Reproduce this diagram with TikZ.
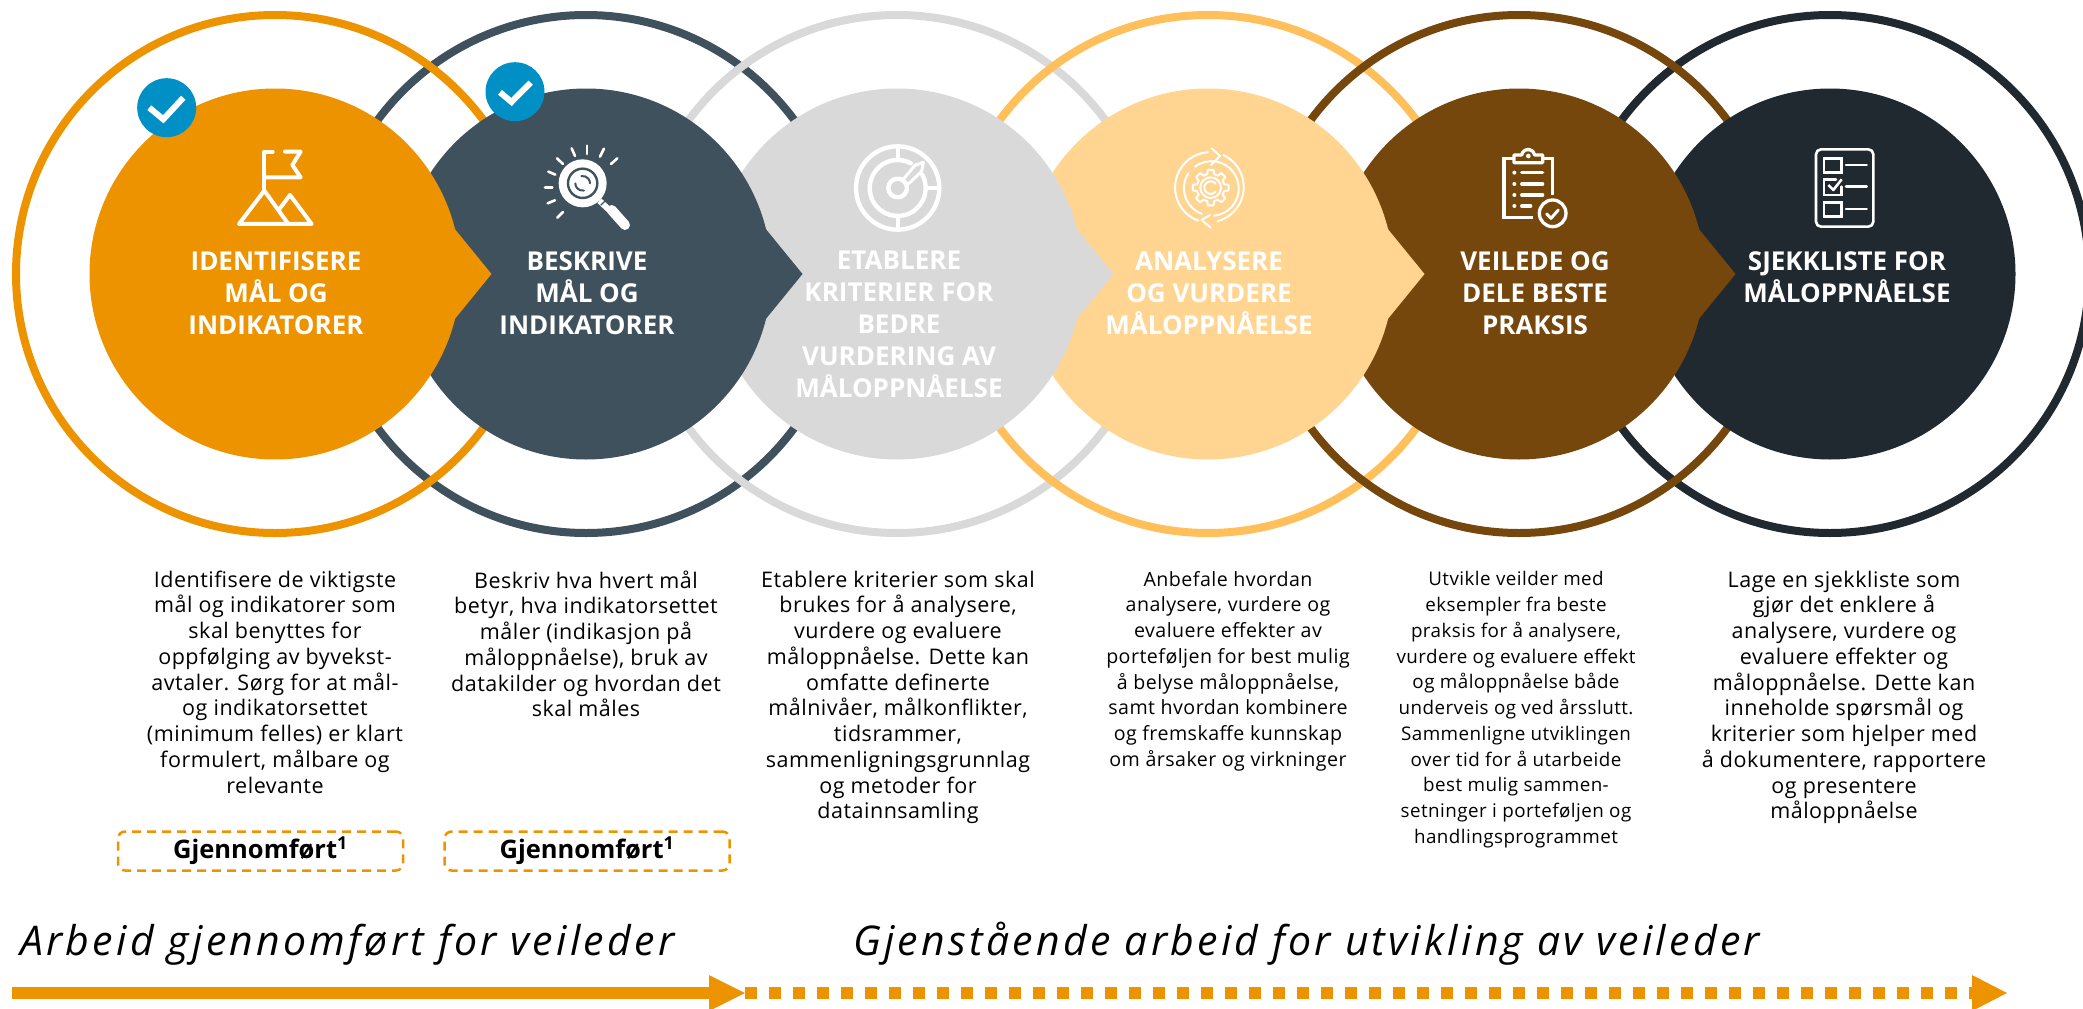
\documentclass[tikz,border=0pt]{standalone}
\usepackage{fontspec}
\setmainfont[LetterSpace=2.4]{Open Sans}
\newfontfamily\headfont{Open Sans}
\newfontfamily\bigfont[LetterSpace=8]{Open Sans}
\definecolor{cOrange}{HTML}{EE9300}
\definecolor{cSlate}{HTML}{3F515C}
\definecolor{cGrey}{HTML}{D9D9D9}
\definecolor{cSand}{HTML}{FFD591}
\definecolor{cGold}{HTML}{FFC05C}
\definecolor{cBrown}{HTML}{75470D}
\definecolor{cDark}{HTML}{20292F}
\definecolor{cBlue}{HTML}{0090C5}
\tikzset{
  ringc/.style={draw=#1,line width=8pt,circle,minimum size=518pt,inner sep=0pt},
  disc/.style={fill=#1,circle,minimum size=371pt,inner sep=0pt},
  headtxt/.style={text=white,align=center,anchor=north,inner sep=0pt,font=\headfont\bfseries\fontsize{26}{32}\selectfont},
  bodytxt/.style={text=black,align=center,anchor=north,inner sep=0pt,font=\fontsize{#1}{25.75}\selectfont},
  bodytxt/.default=21.5,
  donebox/.style={draw=cOrange,line width=2.5pt,dash pattern=on 9pt off 6pt,rounded corners=7pt,minimum width=285pt,minimum height=39pt,inner sep=0pt,font=\headfont\bfseries\fontsize{25.5}{30}\selectfont},
  bigtxt/.style={anchor=base west,inner sep=0pt,font=\bigfont\itshape\fontsize{41}{44}\selectfont},
  badge/.style={fill=cBlue,circle,minimum size=59pt,inner sep=0pt},
  ico/.style={draw=white,line width=4pt,line cap=round,line join=round},
  icothin/.style={draw=white,line width=2pt,line cap=round,line join=round},
  chk/.style={draw=white,line width=6pt,line join=miter},
  solidbar/.style={draw=cOrange,line width=12pt},
  dashbar/.style={draw=cOrange,line width=12pt,dash pattern=on 12pt off 12pt},
}
\newcommand{\tip}[2]{\fill[#1] (#2+179,228) -- (#2+216.5,274) -- (#2+179,320) -- cycle;}
\begin{document}
\begin{tikzpicture}[x=1pt,y=-1pt]
\useasboundingbox (0,0) rectangle (2083,1009);
\clip (0,0) rectangle (2083,1009);
% rings
\node[ringc=cSlate] (r2) at (586,274) {};
\node[ringc=cOrange] (r1) at (275,274) {};
\node[ringc=cGrey] (r3) at (897,274) {};
\node[ringc=cGold] (r4) at (1208,274) {};
\node[ringc=cDark] (r6) at (1830,274) {};
\node[ringc=cBrown] (r5) at (1519,274) {};
% discs, right to left
\node[disc=cDark] (d6) at (1830,274) {};
\tip{cBrown}{1519}
\node[disc=cBrown] (d5) at (1519,274) {};
\tip{cSand}{1208}
\node[disc=cSand] (d4) at (1208,274) {};
\tip{cGrey}{897}
\node[disc=cGrey] (d3) at (897,274) {};
\tip{cSlate}{586}
\node[disc=cSlate] (d2) at (586,274) {};
\tip{cOrange}{275}
\node[disc=cOrange] (d1) at (275,274) {};
% badges
\node[badge] (b1) at (166.7,107.7) {};
\node[badge] (b2) at (515,91.7) {};
\draw[chk] (149.3,107.7) -- (163.3,119.3) -- (183.3,97.7);
\draw[chk] (500,92.3) -- (511.5,102) -- (530.7,82.7);
% flag icon
\begin{scope}[shift={(130,60)},x=0.3333pt,y=-0.3333pt]
\draw[ico] (428,275) -- (403,275) -- (403,392);
\draw[ico] (465,275) -- (512,275) -- (487,315) -- (512,352) -- (403,352);
\draw[ico] (475,492) -- (403,392) -- (327,492) -- (545,492) -- (480,405) -- (450,445);
\end{scope}
% magnifier icon
\begin{scope}[shift={(470,60)},x=0.3333pt,y=-0.3333pt]
\fill[white] (338,370) circle[radius=72];
\draw[cSlate,line width=2.4pt] (338,370) circle[radius=44];
\draw[cSlate,line width=2pt,line cap=round] (338,370) ++(-100:22) arc[start angle=-100,end angle=0,radius=22];
\draw[cSlate,line width=2pt,line cap=round] (338,370) ++(80:22) arc[start angle=80,end angle=180,radius=22];
\draw[white,line width=10pt,line cap=round] (425,450) -- (465,495);
\draw[white,line width=6pt] (388,422) -- (420,452);
\draw[cSlate,line width=1.2pt] (392,436) -- (407,421);
\foreach \pa/\pb/\qa/\qb in {351/257/351/282,305/265/315/288,261/295/279/312,235/335/256/344,225/383/247/383,233/430/255/421,262/473/279/456,390/290/402/266,423/312/442/295}{
  \draw[white,line width=2.6pt,line cap=round] (\pa,\pb) -- (\qa,\qb);
}
\end{scope}
% radar icon
\begin{scope}[shift={(840,130)},x=0.3333pt,y=-0.3333pt]
\draw[ico,line width=4.4pt] (173,174) circle[radius=125];
\draw[ico,line width=4.4pt] (173,174) ++(-28:84) arc[start angle=-28,end angle=298,radius=84];
\draw[ico,line width=4.4pt] (173,174) circle[radius=28];
\draw[ico] (173,49) -- (173,90);
\draw[ico] (173,258) -- (173,299);
\draw[ico] (257,174) -- (298,174);
\draw[icothin,line width=3pt] (190,148) -- (225,106) -- (250,97) -- (245,124) -- (205,162);
\end{scope}
% gear icon
\begin{scope}[shift={(1040,50)},x=0.3333pt,y=-0.3333pt]
\draw[icothin] (475,512) arc[start angle=110,end angle=266,radius=106];
\draw[icothin] (515,295) -- (540,318) -- (513,345);
\draw[icothin] (550,315) arc[start angle=-65,end angle=75,radius=106];
\draw[icothin] (510,495) -- (485,510) -- (512,533);
\draw[icothin] (465,350) arc[start angle=-127,end angle=85,radius=82];
\draw[icothin] (445,370) arc[start angle=213,end angle=110,radius=82];
\begin{scope}[shift={(512,413)}]
\draw[icothin] (0:54)
 \foreach \a in {0,45,...,315}{
  -- ({\a+9}:54) -- ({\a+14}:42) -- ({\a+31}:42) -- ({\a+36}:54)
 } -- cycle;
\draw[icothin] (0,0) circle[radius=31];
\draw[icothin] (-40:19) arc[start angle=-40,end angle=-320,radius=19];
\end{scope}
\end{scope}
% clipboard icon
\begin{scope}[shift={(1490,140)},x=0.3333pt,y=-0.3333pt]
\draw[icothin,line width=3.3pt,line cap=butt,line join=miter] (130,232) -- (42,232) -- (42,55) -- (72,55);
\draw[icothin,line width=3.3pt,line cap=butt,line join=miter] (158,55) -- (188,55) -- (188,165);
\draw[icothin,line width=3.3pt] (72,68) -- (72,45) -- (95,45) arc[start angle=190,end angle=350,radius=20] -- (158,45) -- (158,68) -- cycle;
\fill[white] (115,48) circle[radius=7];
\foreach \yy in {98,132,165}{
  \fill[white] (73,\yy) circle[radius=6];
  \draw[icothin,line width=3.2pt] (95,\yy) -- (158,\yy);
}
\fill[white] (73,198) circle[radius=6];
\draw[icothin,line width=3.2pt] (95,198) -- (122,198);
\draw[icothin,line width=3.3pt] (188,220) circle[radius=40];
\draw[icothin,line width=3pt] (170,222) -- (183,235) -- (205,210);
\end{scope}
% checklist icon
\begin{scope}[shift={(1800,140)},x=0.3333pt,y=-0.3333pt]
\draw[icothin,line width=2.6pt,rounded corners=5pt] (48,28) rectangle (220,260);
\draw[icothin,line width=2.6pt,line join=miter] (72,55) rectangle (125,98);
\draw[icothin,line width=2.6pt,line join=miter] (72,187) rectangle (125,230);
\draw[icothin,line width=2.6pt,line join=miter] (108,118) -- (72,118) -- (72,165) -- (125,165) -- (125,140);
\draw[icothin,line width=2.6pt,line cap=butt] (85,135) -- (100,150) -- (125,118);
\foreach \yy in {75,140,207}{
  \draw[icothin,line width=2.6pt] (138,\yy) -- (200,\yy);
}
\end{scope}
% headings
\node[headtxt] (h1) at (276,251) {IDENTIFISERE\\MÅL OG\\INDIKATORER};
\node[headtxt] (h2) at (587,251) {BESKRIVE\\MÅL OG\\INDIKATORER};
\node[headtxt] (h3) at (899,251) {ETABLERE\\KRITERIER FOR\\BEDRE\\VURDERING AV\\MÅLOPPNÅELSE};
\node[headtxt] (h4) at (1209,251) {ANALYSERE\\OG VURDERE\\MÅLOPPNÅELSE};
\node[headtxt] (h5) at (1535,251) {VEILEDE OG\\DELE BESTE\\PRAKSIS};
\node[headtxt] (h6) at (1847,251) {SJEKKLISTE FOR\\MÅLOPPNÅELSE};
% body
\node[bodytxt] (t1) at (275,570.5) {Identifisere de viktigste\\mål og indikatorer som\\skal benyttes for\\oppfølging av byvekst-\\avtaler. Sørg for at mål-\\og indikatorsettet\\(minimum felles) er klart\\formulert, målbare og\\relevante};
\node[bodytxt] (t2) at (586,570.5) {Beskriv hva hvert mål\\betyr, hva indikatorsettet\\måler (indikasjon på\\måloppnåelse), bruk av\\datakilder og hvordan det\\skal måles};
\node[bodytxt] (t3) at (898,570.5) {Etablere kriterier som skal\\brukes for å analysere,\\vurdere og evaluere\\måloppnåelse. Dette kan\\omfatte definerte\\målnivåer, målkonflikter,\\tidsrammer,\\sammenligningsgrunnlag\\og metoder for\\datainnsamling};
\node[bodytxt=19.6] (t4) at (1228,571) {Anbefale hvordan\\analysere, vurdere og\\evaluere effekter av\\porteføljen for best mulig\\å belyse måloppnåelse,\\samt hvordan kombinere\\og fremskaffe kunnskap\\om årsaker og virkninger};
\node[bodytxt=18.8] (t5) at (1516,571.5) {Utvikle veilder med\\eksempler fra beste\\praksis for å analysere,\\vurdere og evaluere effekt\\og måloppnåelse både\\underveis og ved årsslutt.\\Sammenligne utviklingen\\over tid for å utarbeide\\best mulig sammen-\\setninger i porteføljen og\\handlingsprogrammet};
\node[bodytxt] (t6) at (1844,570.5) {Lage en sjekkliste som\\gjør det enklere å\\analysere, vurdere og\\evaluere effekter og\\måloppnåelse. Dette kan\\inneholde spørsmål og\\kriterier som hjelper med\\å dokumentere, rapportere\\og presentere\\måloppnåelse};
% status boxes
\node[donebox] (g1) at (260.5,851) {Gjennomført\textsuperscript{1}};
\node[donebox] (g2) at (587,851) {Gjennomført\textsuperscript{1}};
% timeline
\node[bigtxt] (l1) at (20,955) {Arbeid gjennomført for veileder};
\node[bigtxt] (l2) at (853,955) {Gjenstående arbeid for utvikling av veileder};
\coordinate (a1) at (12,993);
\coordinate (a2) at (709,993);
\coordinate (a3) at (745,993);
\coordinate (a4) at (1972,993);
\draw[dashbar] (a3) -- (a4);
\draw[solidbar] (a1) -- (a2);
\fill[cOrange] (709,975) -- (745,993) -- (709,1011) -- cycle;
\fill[cOrange] (1972,975) -- (2007,993) -- (1972,1011) -- cycle;
\end{tikzpicture}
\end{document}
